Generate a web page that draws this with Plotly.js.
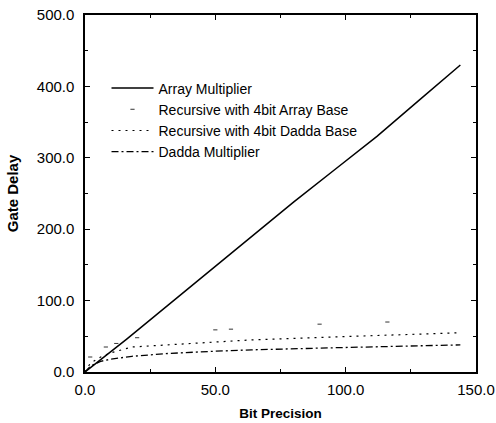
<!DOCTYPE html>
<html>
<head>
<meta charset="utf-8">
<script src="https://cdn.plot.ly/plotly-3.0.1.min.js"></script>
<style>html,body{margin:0;padding:0;background:#fff;}#chart{width:496px;height:423px;}</style>
</head>
<body>
<div id="chart"></div>
<script>
// Data
var arrayX = [0, 16, 32, 48, 64, 80, 96, 112, 128, 144];
var arrayY = [0, 46, 94, 142, 190, 238, 284, 330, 380, 430];

var recArrayX = [2, 8, 12, 20, 50, 56, 90, 116];
var recArrayY = [21, 35, 40, 48, 59, 60, 67, 70];

var recDaddaX = [0, 2, 6, 10, 18, 32, 49, 64, 95, 112, 132, 144];
var recDaddaY = [0, 12, 21, 27, 35, 38, 42, 45, 49, 51, 53, 55];

var daddaX = [0, 2, 6, 10, 18, 32, 49, 64, 96, 128, 144];
var daddaY = [0, 8, 15, 18, 22, 26, 29, 31, 34, 37, 38];

var names = ["Array Multiplier", "Recursive with 4bit Array Base", "Recursive with 4bit Dadda Base", "Dadda Multiplier"];

var xTicks = [0, 50, 100, 150];
var yTicks = [0, 100, 200, 300, 400, 500];

var font = "Liberation Sans, Arial, Helvetica, sans-serif";

var traces = [
  {x: arrayX, y: arrayY, name: names[0], mode: "lines", line: {color: "#000", width: 1.5}},
  {x: recArrayX, y: recArrayY, name: names[1], mode: "markers",
   marker: {symbol: "line-ew", size: 3, color: "#000", line: {color: "#333", width: 1}}},
  {x: recDaddaX, y: recDaddaY, name: names[2], mode: "lines", line: {color: "#000", width: 1.2, dash: "2px,5px"}},
  {x: daddaX, y: daddaY, name: names[3], mode: "lines", line: {color: "#000", width: 1.3, dash: "7px,3px,2px,3px"}}
];

var layout = {
  width: 496, height: 423,
  margin: {l: 85, r: 20, t: 15, b: 51},
  paper_bgcolor: "#fff", plot_bgcolor: "#fff",
  font: {family: font, color: "#000", size: 14},
  showlegend: true,
  legend: {x: 0.055, y: 0.839, xanchor: "left", yanchor: "top", bgcolor: "rgba(0,0,0,0)",
           font: {family: font, size: 14, color: "#000"}, tracegroupgap: 0, itemwidth: 42},
  xaxis: {
    range: [0, 150], tickvals: xTicks, tickformat: ".1f",
    showgrid: false, zeroline: false, showline: true, linecolor: "#000", linewidth: 1.6,
    mirror: "ticks", ticks: "inside", ticklen: 5, tickcolor: "#000",
    tickfont: {family: font, size: 15}, ticklabelstandoff: 3,
    minor: {tickvals: [25, 75, 125], ticks: "inside", ticklen: 3, tickcolor: "#000"},
    title: {text: "<b>Bit Precision</b>", font: {family: font, size: 13.5}, standoff: 12}
  },
  yaxis: {
    range: [0, 500], tickvals: yTicks, tickformat: ".1f",
    showgrid: false, zeroline: false, showline: true, linecolor: "#000", linewidth: 1.6,
    mirror: "ticks", ticks: "inside", ticklen: 5, tickcolor: "#000",
    tickfont: {family: font, size: 15}, ticklabelstandoff: 6,
    minor: {tickvals: [50, 150, 250, 350, 450], ticks: "inside", ticklen: 3, tickcolor: "#000"},
    title: {text: "<b>Gate Delay</b>", font: {family: font, size: 15}, standoff: 14}
  }
};

Plotly.newPlot("chart", traces, layout, {displayModeBar: false, staticPlot: true});
</script>
</body>
</html>
